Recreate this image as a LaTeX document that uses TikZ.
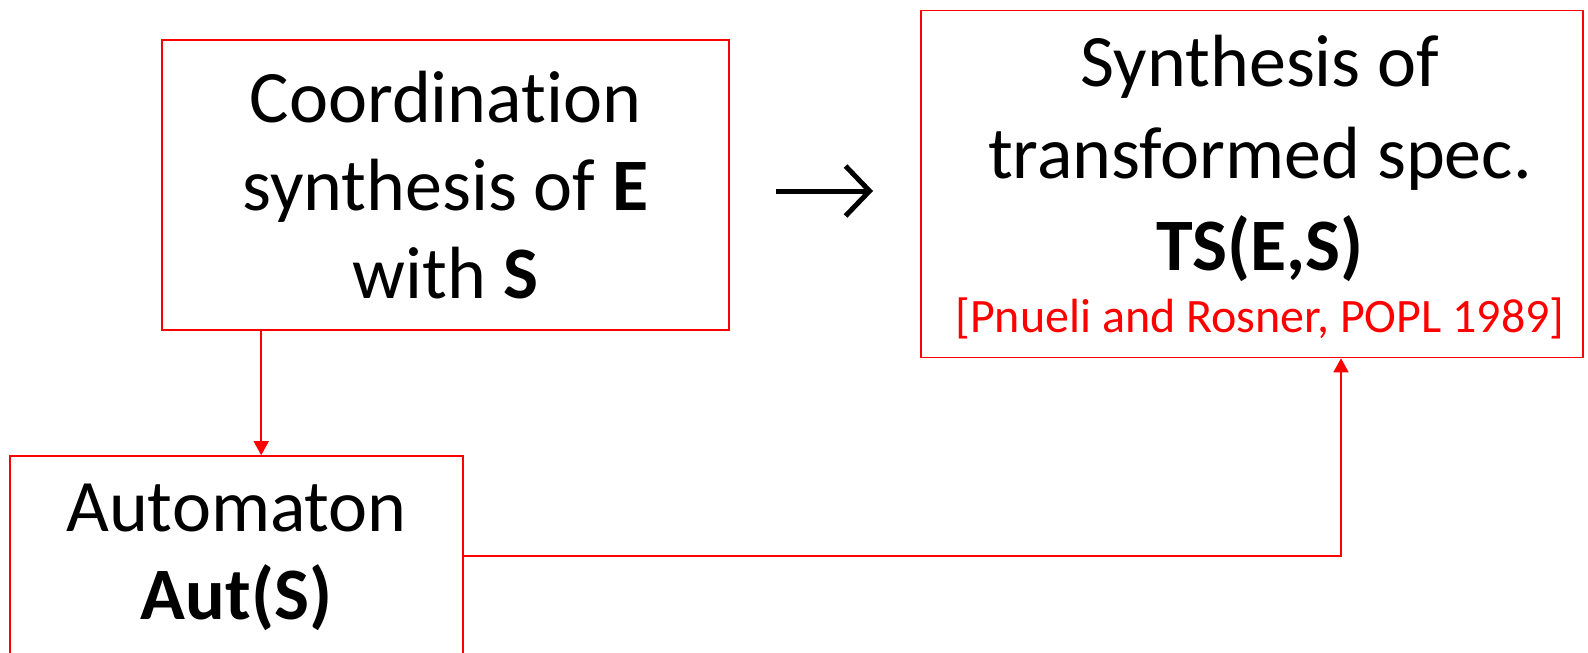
\documentclass[tikz,border=0pt]{standalone}
\usepackage{fontspec}
\setmainfont{Carlito}[RawFeature=-liga]
\usetikzlibrary{arrows.meta}
\begin{document}
\begin{tikzpicture}[x=1pt,y=-1pt,
  box/.style={draw=red, line width=1.6pt, inner sep=0pt, align=center,
              font=\fontsize{74}{88}\selectfont},
  boxtext/.style={inner sep=0pt, align=center, font=\fontsize{74}{92}\selectfont},
  link/.style={draw=red, line width=1.6pt, -{Triangle[width=15pt,length=14pt]}},
  bigarrow/.style={line width=5pt, -{Straight Barb[length=24pt,width=50pt,line width=5pt]}},
]
\useasboundingbox (0,0) rectangle (1588,653);
\clip (0,0) rectangle (1588,653);

% boxes
\node[box, minimum width=567pt, minimum height=290pt] (coord) at (445.5,185)
  {Coordination\\synthesis of \textbf{E}\\with \textbf{S}};
\node[box, minimum width=453pt, minimum height=202pt] (aut) at (236.5,557)
  {Automaton\\\textbf{Aut(S)}};
\node[box, minimum width=662pt, minimum height=347pt] (synth) at (1252,184) {};
\node[boxtext] (synthtext) at ([xshift=8pt,yshift=-3pt]synth.center)
  {Synthesis of\\transformed spec.\\\textbf{TS(E,S)}\\[-30pt]{\fontsize{48}{56}\selectfont\color{red}[Pnueli and Rosner, POPL 1989]}};

% big black arrow between the top boxes
\coordinate (a1) at (776,191);
\coordinate (a2) at (873,191);
\draw[bigarrow] (a1) -- (a2);

% connectors
\draw[link] ([xshift=100pt]coord.south west) -- ([xshift=100pt]coord.south west |- aut.north);
\coordinate (bend) at (1341,556);
\draw[link] (aut.east |- bend) -- (bend) -- (bend |- synth.south);
\end{tikzpicture}
\end{document}
